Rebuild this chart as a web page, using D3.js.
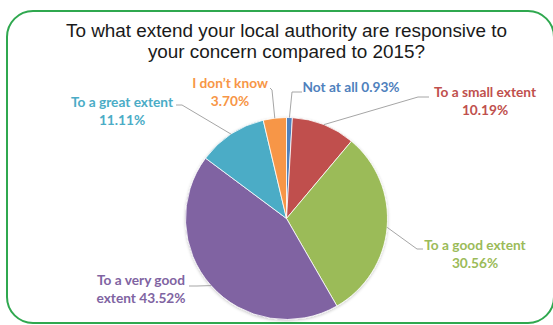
<!DOCTYPE html>
<html>
<head>
<meta charset="utf-8">
<script src="https://cdn.jsdelivr.net/npm/d3@7/dist/d3.min.js"></script>
<style>
  html, body { margin: 0; padding: 0; background: #fff; }
  svg { display: block; }
</style>
</head>
<body>
<svg id="chart" width="553" height="325"></svg>
<script>
// Survey responses, clockwise from 12 o'clock
const categories = ["Not at all", "To a small extent", "To a good extent", "To a very good extent", "To a great extent", "I don\u2019t know"];
const shares = [0.93, 10.19, 30.56, 43.52, 11.11, 3.70];
const sliceColors = ["#4F81BD", "#C0504D", "#9BBB59", "#8064A2", "#4BACC6", "#F79646"];
const titleLines = ["To what extend your local authority are responsive to", "your concern compared to 2015?"];

// Label text lines per category (value appended from shares)
const labelText = (name, v) => {
  const pct = v.toFixed(2) + "%";
  switch (name) {
    case "Not at all": return [name + " " + pct];
    case "To a very good extent": return ["To a very good", "extent " + pct];
    default: return [name, pct];
  }
};

// Where each label sits and how its leader line bends
const labelLayout = {
  "Not at all":            { x: 351, y: 92,  bend: [[292, 92], [302, 92]] },
  "To a small extent":     { x: 485, y: 97,  bend: [[418, 97], [429, 97]] },
  "To a good extent":      { x: 475, y: 250, bend: [[417, 249], [423, 249]] },
  "To a very good extent": { x: 141, y: 285, bend: [[197, 286], [189, 286]] },
  "To a great extent":     { x: 122, y: 107, bend: [[182, 105], [176, 105]] },
  "I don\u2019t know":     { x: 230, y: 88,  bend: [[272, 90], [270, 88]] }
};

const svg = d3.select("#chart");
const cx = 286.5, cy = 218.5, r = 101;

// Frame
svg.append("rect")
  .attr("x", 7).attr("y", 11)
  .attr("width", 547).attr("height", 312)
  .attr("rx", 26).attr("ry", 26)
  .attr("fill", "#fff")
  .attr("stroke", "#2FA84F")
  .attr("stroke-width", 2);

// Title
svg.append("text")
  .attr("x", cx).attr("y", 37)
  .attr("text-anchor", "middle")
  .attr("font-family", "'Liberation Sans', Arial, sans-serif")
  .attr("font-size", 18.9)
  .attr("fill", "#1a1a1a")
  .selectAll("tspan")
  .data(titleLines)
  .join("tspan")
  .attr("x", cx)
  .attr("dy", (d, i) => i === 0 ? 0 : 21)
  .text(d => d);

const defs = svg.append("defs");
const f = defs.append("filter").attr("id", "soft").attr("x", "-10%").attr("y", "-10%").attr("width", "120%").attr("height", "120%");
f.append("feDropShadow").attr("dx", 0).attr("dy", 1).attr("stdDeviation", 1.5)
  .attr("flood-color", "#000").attr("flood-opacity", 0.22);

const data = categories.map((c, i) => ({ name: c, value: shares[i], color: sliceColors[i] }));

const pie = d3.pie().value(d => d.value).sort(null).startAngle(0).endAngle(2 * Math.PI);
const arcs = pie(data);
const arc = d3.arc().innerRadius(0).outerRadius(r);
const edge = d3.arc().innerRadius(r).outerRadius(r);

const g = svg.append("g").attr("transform", `translate(${cx},${cy})`);
g.append("g").attr("filter", "url(#soft)")
  .selectAll("path")
  .data(arcs)
  .join("path")
  .attr("d", arc)
  .attr("fill", d => d.data.color)
  .attr("stroke", "#fff")
  .attr("stroke-width", 0.8);

// Leader lines from the slice rim to the label
const line = d3.line();
svg.append("g")
  .selectAll("path")
  .data(arcs)
  .join("path")
  .attr("d", d => {
    const [px, py] = edge.centroid(d);
    const pts = [[cx + px, cy + py]].concat(labelLayout[d.data.name].bend);
    return line(pts);
  })
  .attr("fill", "none")
  .attr("stroke", "#A6A6A6")
  .attr("stroke-width", 1);

// Labels
const labels = svg.append("g")
  .attr("font-family", "Lato, 'Open Sans', sans-serif")
  .attr("font-weight", "bold")
  .attr("font-size", 13.7)
  .attr("text-anchor", "middle");

labels.selectAll("text")
  .data(arcs)
  .join("text")
  .attr("x", d => labelLayout[d.data.name].x)
  .attr("y", d => labelLayout[d.data.name].y)
  .attr("fill", d => d.data.color)
  .each(function (d) {
    const lines = labelText(d.data.name, d.data.value);
    d3.select(this).selectAll("tspan")
      .data(lines)
      .join("tspan")
      .attr("x", labelLayout[d.data.name].x)
      .attr("dy", (t, i) => i === 0 ? 0 : 17.5)
      .text(t => t);
  });
</script>
</body>
</html>
